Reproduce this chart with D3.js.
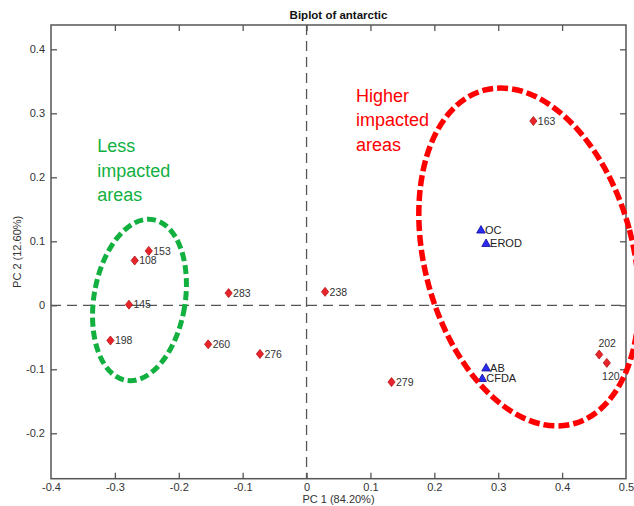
<!DOCTYPE html>
<html>
<head>
<meta charset="utf-8">
<script src="https://cdn.jsdelivr.net/npm/d3@7"></script>
<style>
  body { margin: 0; background: #fff; }
  svg { display: block; font-family: "Liberation Sans", Arial, sans-serif; }
</style>
</head>
<body>
<div id="chart"></div>
<script>
// sample scores (red diamonds)
var sampleIds = ["153", "108", "145", "198", "283", "260", "276", "238", "163", "279", "202", "120"];
var samplePC1 = [-0.247, -0.269, -0.278, -0.307, -0.122, -0.154, -0.073, 0.029, 0.355, 0.133, 0.458, 0.470];
var samplePC2 = [0.085, 0.070, 0.001, -0.055, 0.019, -0.061, -0.076, 0.021, 0.288, -0.120, -0.077, -0.090];

// biomarker loadings (blue triangles)
var markerNames = ["OC", "EROD", "AB", "CFDA"];
var markerPC1 = [0.273, 0.281, 0.281, 0.275];
var markerPC2 = [0.118, 0.097, -0.0975, -0.114];

// tick labels
var xTicks = [-0.4, -0.3, -0.2, -0.1, 0, 0.1, 0.2, 0.3, 0.4, 0.5];
var yTicks = [-0.2, -0.1, 0, 0.1, 0.2, 0.3, 0.4];

// grouping ellipses (centre and radii in PC units)
var groupLines = [["Less", "impacted", "areas"], ["Higher", "impacted", "areas"]];
var groupCX = [-0.2615, 0.348];
var groupCY = [0.0083, 0.0755];
var groupRX = [0.0714, 0.163];
var groupRY = [0.1273, 0.2698];
var groupTextX = [-0.3275, 0.0773];
var groupTextY = [0.2395, 0.318];

var width = 634, height = 506;
var margin = { top: 25, right: 8, bottom: 27.3, left: 51 };

var x = d3.scaleLinear().domain([-0.4, 0.5]).range([margin.left, width - margin.right]);
var y = d3.scaleLinear().domain([-0.271, 0.438]).range([height - margin.bottom, margin.top]);

var svg = d3.select("#chart").append("svg")
    .attr("width", width)
    .attr("height", height);

svg.append("rect").attr("width", width).attr("height", height).attr("fill", "#fff");

var fmt = function (d) { return d === 0 ? "0" : d.toFixed(1); };
var axisColor = "#555";

// axes, ticks pointing inwards on all four sides
var gx = svg.append("g")
    .attr("transform", "translate(0," + y.range()[0] + ")")
    .call(d3.axisBottom(x).tickValues(xTicks).tickFormat(fmt).tickSizeInner(-6).tickSizeOuter(0).tickPadding(5));
var gxt = svg.append("g")
    .attr("transform", "translate(0," + y.range()[1] + ")")
    .call(d3.axisTop(x).tickValues(xTicks).tickFormat("").tickSizeInner(-6).tickSizeOuter(0));
var gy = svg.append("g")
    .attr("transform", "translate(" + x.range()[0] + ",0)")
    .call(d3.axisLeft(y).tickValues(yTicks).tickFormat(fmt).tickSizeInner(-6).tickSizeOuter(0).tickPadding(6));
var gyr = svg.append("g")
    .attr("transform", "translate(" + x.range()[1] + ",0)")
    .call(d3.axisRight(y).tickValues(yTicks).tickFormat("").tickSizeInner(-6).tickSizeOuter(0));

[gx, gxt, gy, gyr].forEach(function (g) {
    g.select(".domain").remove();
    g.selectAll("line").attr("stroke", axisColor).attr("stroke-width", 1.3);
    g.selectAll("text").attr("fill", "#333").style("font-size", "11px")
        .style("font-family", "'Liberation Sans', Arial, sans-serif");
});

// remove ticks at the frame corners
gx.selectAll(".tick").filter(function (d) { return d === 0.5 || d === -0.4; }).select("line").remove();
gxt.selectAll(".tick").filter(function (d) { return d === 0.5 || d === -0.4; }).select("line").remove();

svg.append("rect")
    .attr("x", x.range()[0]).attr("y", y.range()[1])
    .attr("width", x.range()[1] - x.range()[0])
    .attr("height", y.range()[0] - y.range()[1])
    .attr("fill", "none").attr("stroke", axisColor).attr("stroke-width", 1.5);

// zero lines
svg.append("line")
    .attr("x1", x.range()[0]).attr("x2", x.range()[1])
    .attr("y1", y(0)).attr("y2", y(0))
    .attr("stroke", "#555").attr("stroke-width", 1.3).attr("stroke-dasharray", "10 6");
svg.append("line")
    .attr("x1", x(0)).attr("x2", x(0))
    .attr("y1", y.range()[1]).attr("y2", y.range()[0])
    .attr("stroke", "#555").attr("stroke-width", 1.3).attr("stroke-dasharray", "10 6");

// title and axis labels
svg.append("text")
    .attr("x", (x.range()[0] + x.range()[1]) / 2).attr("y", 19)
    .attr("text-anchor", "middle").style("font-size", "11.5px").style("font-weight", "bold")
    .attr("fill", "#111")
    .text("Biplot of antarctic");
svg.append("text")
    .attr("x", (x.range()[0] + x.range()[1]) / 2).attr("y", 503)
    .attr("text-anchor", "middle").style("font-size", "11px").attr("fill", "#333")
    .text("PC 1 (84.20%)");
svg.append("text")
    .attr("transform", "translate(21," + ((y.range()[0] + y.range()[1]) / 2) + ") rotate(-90)")
    .attr("text-anchor", "middle").style("font-size", "11px").attr("fill", "#333")
    .text("PC 2 (12.60%)");

// sample points
var samples = sampleIds.map(function (id, i) { return { id: id, pc1: samplePC1[i], pc2: samplePC2[i] }; });
var diamond = "M0,-4.5L3.6,0L0,4.5L-3.6,0Z";

svg.append("g").selectAll("path").data(samples).join("path")
    .attr("transform", function (d) { return "translate(" + x(d.pc1) + "," + y(d.pc2) + ")"; })
    .attr("d", diamond)
    .attr("fill", "#e8242a").attr("stroke", "#b31418").attr("stroke-width", 0.8);

svg.append("g").selectAll("text").data(samples).join("text")
    .attr("x", function (d) {
        if (d.id === "202") return x(d.pc1) + 8;
        if (d.id === "120") return x(d.pc1) + 4;
        return x(d.pc1) + 4.5;
    })
    .attr("y", function (d) {
        if (d.id === "202") return y(d.pc2) - 8;
        if (d.id === "120") return y(d.pc2) + 17;
        return y(d.pc2) + 3.8;
    })
    .attr("text-anchor", function (d) { return (d.id === "202" || d.id === "120") ? "middle" : "start"; })
    .style("font-size", "10.5px").attr("fill", "#333")
    .text(function (d) { return d.id; });

// biomarker loadings
var loads = markerNames.map(function (n, i) { return { name: n, pc1: markerPC1[i], pc2: markerPC2[i] }; });
var tri = "M0,-4.2L4.3,3.3L-4.3,3.3Z";

svg.append("g").selectAll("path").data(loads).join("path")
    .attr("transform", function (d) { return "translate(" + x(d.pc1) + "," + y(d.pc2) + ")"; })
    .attr("d", tri)
    .attr("fill", "#2b2bef").attr("stroke", "#0b0b9a").attr("stroke-width", 0.8);

svg.append("g").selectAll("text").data(loads).join("text")
    .attr("x", function (d) { return x(d.pc1) + 4; })
    .attr("y", function (d) { return y(d.pc2) + 4.2; })
    .style("font-size", "11px").attr("fill", "#222")
    .text(function (d) { return d.name; });

// group ellipses and captions
var groupColor = ["#12b03f", "#ff0000"];
var groupAngle = [9.5, -15];
var groupDash = ["9 4", "11 4"];
var groupWidth = [5, 5.5];

groupLines.forEach(function (lines, i) {
    var cx = x(groupCX[i]), cy = y(groupCY[i]);
    svg.append("ellipse")
        .attr("cx", cx).attr("cy", cy)
        .attr("rx", x(groupCX[i] + groupRX[i]) - cx)
        .attr("ry", cy - y(groupCY[i] + groupRY[i]))
        .attr("transform", "rotate(" + groupAngle[i] + "," + cx + "," + cy + ")")
        .attr("fill", "none")
        .attr("stroke", groupColor[i])
        .attr("stroke-width", groupWidth[i])
        .attr("stroke-dasharray", groupDash[i]);

    var t = svg.append("text")
        .attr("x", x(groupTextX[i])).attr("y", y(groupTextY[i]))
        .style("font-size", "18px").attr("fill", groupColor[i]);
    lines.forEach(function (s, k) {
        t.append("tspan").attr("x", x(groupTextX[i])).attr("dy", k === 0 ? 0 : 24.5).text(s);
    });
});
</script>
</body>
</html>
